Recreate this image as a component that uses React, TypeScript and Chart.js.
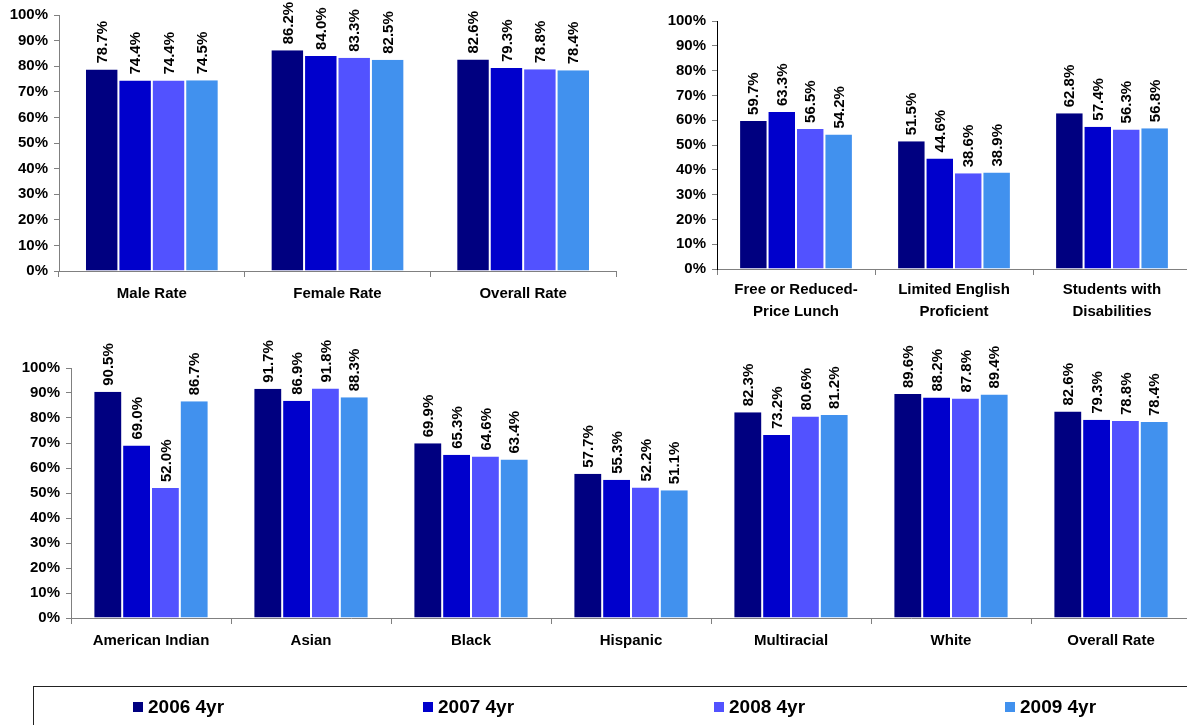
import React, { useEffect, useRef } from "react";
import { Chart, registerables } from "chart.js";

Chart.register(...registerables);

const seriesNames = ["2006 4yr", "2007 4yr", "2008 4yr", "2009 4yr"];
const seriesColors = ["#000080", "#0000CC", "#5252FF", "#4191EE"];
const yTickValues = [0, 10, 20, 30, 40, 50, 60, 70, 80, 90, 100];

const chart1Categories = ["Male Rate", "Female Rate", "Overall Rate"];
const chart1_2006 = [78.7, 86.2, 82.6];
const chart1_2007 = [74.4, 84.0, 79.3];
const chart1_2008 = [74.4, 83.3, 78.8];
const chart1_2009 = [74.5, 82.5, 78.4];

const chart2Categories = [
  ["Free or Reduced-", "Price Lunch"],
  ["Limited English", "Proficient"],
  ["Students with", "Disabilities"],
];
const chart2_2006 = [59.7, 51.5, 62.8];
const chart2_2007 = [63.3, 44.6, 57.4];
const chart2_2008 = [56.5, 38.6, 56.3];
const chart2_2009 = [54.2, 38.9, 56.8];

const chart3Categories = ["American Indian", "Asian", "Black", "Hispanic", "Multiracial", "White", "Overall Rate"];
const chart3_2006 = [90.5, 91.7, 69.9, 57.7, 82.3, 89.6, 82.6];
const chart3_2007 = [69.0, 86.9, 65.3, 55.3, 73.2, 88.2, 79.3];
const chart3_2008 = [52.0, 91.8, 64.6, 52.2, 80.6, 87.8, 78.8];
const chart3_2009 = [86.7, 88.3, 63.4, 51.1, 81.2, 89.4, 78.4];

const FONT = "'Liberation Sans', Arial, sans-serif";

const valueLabelPlugin = {
  id: "valueLabels",
  afterDatasetsDraw(chart: any) {
    const ctx = chart.ctx;
    chart.data.datasets.forEach((ds: any, i: number) => {
      const meta = chart.getDatasetMeta(i);
      meta.data.forEach((el: any, j: number) => {
        const v = ds.data[j];
        ctx.save();
        ctx.translate(el.x, el.y - 6);
        ctx.rotate(-Math.PI / 2);
        ctx.font = `bold 15px ${FONT}`;
        ctx.fillStyle = "#000";
        ctx.textAlign = "left";
        ctx.textBaseline = "middle";
        ctx.fillText(v.toFixed(1) + "%", 0, 1);
        ctx.restore();
      });
    });
  },
};

type Props = {
  labels: any[];
  series: number[][];
  left: number;
  top: number;
  width: number;
  height: number;
  yAxisWidth: number;
  xAxisHeight: number;
  padTop: number;
  padRight: number;
  yAxisColor: string;
  labelPadding: number;
  labelLineHeight: number;
};

function BarChart(p: Props) {
  const ref = useRef<HTMLCanvasElement | null>(null);
  useEffect(() => {
    if (!ref.current) return;
    const chart = new Chart(ref.current, {
      type: "bar",
      data: {
        labels: p.labels,
        datasets: p.series.map((d, i) => ({
          label: seriesNames[i],
          data: d,
          backgroundColor: seriesColors[i],
          borderColor: "#ffffff",
          borderWidth: { top: 0, right: 1, bottom: 0, left: 1 },
          borderSkipped: false,
          categoryPercentage: 0.72,
          barPercentage: 1,
        })),
      },
      options: {
        animation: false,
        responsive: false,
        maintainAspectRatio: false,
        devicePixelRatio: 1,
        layout: { padding: { top: p.padTop, right: p.padRight, left: 0, bottom: 0 } },
        plugins: { legend: { display: false }, tooltip: { enabled: false } },
        scales: {
          x: {
            grid: { display: true, drawOnChartArea: false, drawTicks: true, tickLength: 6, color: "#808080", offset: true },
            border: { display: true, color: "#808080", width: 1 },
            ticks: {
              color: "#000",
              padding: p.labelPadding,
              maxRotation: 0,
              autoSkip: false,
              font: { family: FONT, size: 15, weight: "bold", lineHeight: p.labelLineHeight },
            },
            afterFit: (s: any) => {
              s.height = p.xAxisHeight;
            },
          },
          y: {
            min: 0,
            max: 100,
            afterBuildTicks: (s: any) => {
              s.ticks = yTickValues.map((v) => ({ value: v }));
            },
            grid: { display: true, drawOnChartArea: false, drawTicks: true, tickLength: 5, color: "#808080" },
            border: { display: true, color: p.yAxisColor, width: 1 },
            ticks: {
              color: "#000",
              padding: 6,
              font: { family: FONT, size: 15, weight: "bold" },
              callback: (v: any) => v + "%",
            },
            afterFit: (s: any) => {
              s.width = p.yAxisWidth;
            },
          },
        },
      } as any,
      plugins: [valueLabelPlugin],
    });
    return () => chart.destroy();
  }, []);
  return (
    <canvas
      ref={ref}
      width={p.width}
      height={p.height}
      style={{ position: "absolute", left: p.left, top: p.top, width: p.width, height: p.height, display: "block" }}
    />
  );
}

const legendX = [133, 423, 714, 1005];

export default function App() {
  return (
    <div
      style={{
        position: "absolute",
        left: 0,
        top: 0,
        width: 1187,
        height: 725,
        overflow: "hidden",
        background: "#fff",
        fontFamily: FONT,
      }}
    >
      <BarChart
        labels={chart1Categories}
        series={[chart1_2006, chart1_2007, chart1_2008, chart1_2009]}
        left={0}
        top={0}
        width={640}
        height={330}
        yAxisWidth={59}
        xAxisHeight={59}
        padTop={14}
        padRight={24}
        yAxisColor="#808080"
        labelPadding={8}
        labelLineHeight={1.2}
      />
      <BarChart
        labels={chart2Categories}
        series={[chart2_2006, chart2_2007, chart2_2008, chart2_2009]}
        left={640}
        top={0}
        width={560}
        height={340}
        yAxisWidth={77}
        xAxisHeight={71}
        padTop={21}
        padRight={9}
        yAxisColor="#000000"
        labelPadding={4}
        labelLineHeight={1.45}
      />
      <BarChart
        labels={chart3Categories}
        series={[chart3_2006, chart3_2007, chart3_2008, chart3_2009]}
        left={0}
        top={336}
        width={1200}
        height={344}
        yAxisWidth={71}
        xAxisHeight={62}
        padTop={32}
        padRight={9}
        yAxisColor="#808080"
        labelPadding={8}
        labelLineHeight={1.2}
      />
      <div
        style={{
          position: "absolute",
          left: 33,
          top: 686,
          width: 1200,
          height: 100,
          border: "1px solid #222",
          boxSizing: "border-box",
        }}
      />
      {seriesNames.map((n, i) => (
        <div
          key={n}
          style={{
            position: "absolute",
            left: legendX[i],
            top: 696,
            height: 22,
            display: "flex",
            alignItems: "center",
            whiteSpace: "nowrap",
          }}
        >
          <div style={{ width: 10, height: 10, background: seriesColors[i], marginRight: 5 }} />
          <span style={{ fontWeight: "bold", fontSize: 19, color: "#000", lineHeight: "22px" }}>{n}</span>
        </div>
      ))}
    </div>
  );
}
